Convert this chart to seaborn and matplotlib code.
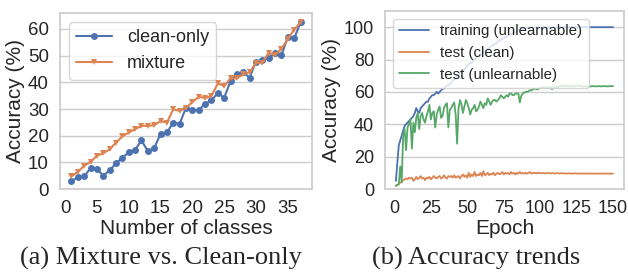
import numpy as np
import pandas as pd
import matplotlib
matplotlib.use("Agg")
import matplotlib.pyplot as plt
import seaborn as sns

# (a) accuracy vs number of classes
classes = list(range(1, 38))
clean_only = [2.9, 4.4, 4.7, 7.8, 7.5, 5.0, 7.0, 9.6, 11.8, 13.7,
              14.7, 18.2, 14.2, 15.3, 20.7, 21.2, 24.9, 24.5, 30.5, 29.5,
              29.6, 32.0, 33.2, 36.0, 34.2, 40.5, 43.0, 43.7, 41.8, 47.8,
              48.3, 49.3, 50.9, 50.1, 57.0, 56.5, 62.5]
mixture = [4.7, 6.5, 8.7, 10.2, 12.5, 13.4, 14.9, 17.4, 19.7, 21.2,
           22.4, 23.7, 23.7, 23.9, 25.5, 24.9, 29.9, 29.3, 30.5, 32.6,
           34.6, 34.1, 34.9, 39.6, 38.6, 41.5, 41.5, 43.0, 43.8, 47.3,
           47.3, 51.1, 50.2, 52.6, 56.3, 59.8, 62.5]

# (b) accuracy trends over 150 epochs
epochs = list(range(1, 151))
train_unl = [5, 16, 27, 30, 33, 36, 39, 40, 41, 42,
             43, 44, 45, 47, 50, 48, 47, 50, 51, 52,
             53, 54, 54, 56, 57, 58, 58, 59, 60, 59,
             60, 61, 62, 62, 63, 64, 64, 65, 66, 67,
             68, 68, 70, 71, 72, 73, 73, 74, 75, 76,
             77, 78, 78, 79, 80, 81, 82, 82, 83, 84,
             85, 85, 86, 87, 87, 88, 89, 89, 90, 90,
             91, 92, 92, 93, 93, 94, 94, 95, 95, 96,
             96, 97, 97, 97.5, 98, 98, 98.5, 99, 99, 99.3,
             99.5, 99.6, 99.7, 99.8, 99.8, 99.9, 99.9, 99.9, 100, 100,
             100, 100, 100, 100, 100, 100, 100, 100, 100, 100,
             100, 100, 100, 100, 100, 100, 100, 100, 100, 100,
             100, 100, 100, 100, 100, 100, 100, 100, 100, 100,
             100, 100, 100, 100, 100, 100, 100, 100, 100, 100,
             100, 100, 100, 100, 100, 100, 100, 100, 100, 100]
test_clean = [2, 2.5, 3, 4, 4.5, 5.5, 6, 6.5, 6, 7,
              6.5, 7, 5, 6, 7.5, 6, 7, 8, 6.5, 7,
              5.5, 7, 6.5, 7.5, 6, 7, 8, 7, 6.5, 7.5,
              8, 6.5, 7, 8.5, 7, 6.5, 8, 7.5, 8, 7,
              8.5, 7, 7.5, 8, 6.5, 8, 9, 7.5, 8.5, 7,
              10, 7.5, 9, 8, 10.5, 8, 9, 8.5, 10, 8,
              11, 8.5, 9, 10, 8.5, 9.5, 9, 10, 8.5, 9.5,
              10, 9, 9.5, 10.5, 9, 10, 9.5, 10, 9, 10.5,
              9.5, 10, 9, 10, 9.5, 10.5, 9.5, 10, 9.5, 10,
              9.5, 10, 10.5, 9.5, 10, 9.8, 10, 9.6, 10.2, 9.8,
              9.7, 9.9, 9.6, 9.8, 9.7, 9.9, 9.6, 9.8, 9.7, 9.6,
              9.8, 9.7, 9.6, 9.7, 9.8, 9.6, 9.7, 9.6, 9.5, 9.7,
              9.6, 9.5, 9.6, 9.7, 9.5, 9.6, 9.5, 9.6, 9.5, 9.6,
              9.5, 9.6, 9.5, 9.5, 9.6, 9.5, 9.5, 9.6, 9.5, 9.5,
              9.5, 9.6, 9.5, 9.5, 9.5, 9.6, 9.5, 9.5, 9.5, 9.5]
test_unl = [2, 2.5, 3, 14, 4, 33, 37, 24, 38, 40,
            43, 25, 41, 35, 44, 47, 37, 45, 47, 43,
            41, 45, 48, 52, 43, 47, 48, 38, 46, 49,
            51, 44, 45, 50, 52, 53, 38, 49, 50, 52,
            53.5, 46, 28, 50, 55, 52, 47, 51, 55, 53,
            50, 46, 49, 50, 52, 48, 49, 51, 54, 52,
            50, 53, 52, 56, 54, 52, 54, 55, 55, 54,
            55, 56, 58, 57, 56, 57, 58, 57, 59, 59,
            58, 58, 59, 59, 59, 53.5, 57.5, 59, 59.5, 60,
            60, 60.5, 61, 61, 61.5, 62, 62, 61.5, 62, 62.5,
            62.5, 63, 62.5, 63, 62.8, 62.5, 63, 61.8, 62.5, 63,
            62.8, 63, 63.5, 63.5, 64, 63.5, 63.8, 63.5, 63.8, 63.5,
            63.5, 63.8, 63.6, 63.4, 63.7, 64.2, 63.8, 63.5, 63.3, 63.4,
            63.5, 63.3, 63.4, 63.5, 63.4, 63.6, 63.5, 63.4, 63.5, 63.6,
            63.5, 63.4, 63.5, 63.6, 63.5, 63.4, 63.5, 63.6, 63.5, 63.6]

sns.set_theme(style="whitegrid", palette="deep")
plt.rcParams['font.family'] = ['Liberation Sans', 'DejaVu Sans']
pal = sns.color_palette("deep")

fig = plt.figure(figsize=(6.28, 2.73), dpi=100)
ax1 = fig.add_axes([60/628, 84/273, 252/628, 176/273])
ax2 = fig.add_axes([385/628, 84/273, 239/628, 178/273])

# left panel
sns.lineplot(x=classes, y=clean_only, ax=ax1, color=pal[0], marker="o",
             markersize=5, markeredgewidth=0, linewidth=1.5, label="clean-only")
sns.lineplot(x=classes, y=mixture, ax=ax1, color=pal[1], marker="v",
             markersize=5, markeredgewidth=0, linewidth=1.5, label="mixture")
ax1.set_ylim(0, 66)
ax1.set_yticks(range(0, 61, 10))
ax1.set_xticks(range(0, 36, 5))
ax1.grid(axis="x", visible=False)
ax1.tick_params(labelsize=13.5, pad=2)
ax1.set_xlabel("Number of classes", fontsize=15, labelpad=1)
ax1.set_ylabel("Accuracy (%)", fontsize=15, labelpad=2)
ax1.legend(loc="upper left", fontsize=13, handlelength=2.0)

# right panel
sns.lineplot(x=epochs, y=train_unl, ax=ax2, color=pal[0], linewidth=1.3,
             label="training (unlearnable)")
sns.lineplot(x=epochs, y=test_clean, ax=ax2, color=pal[1], linewidth=1.3,
             label="test (clean)")
sns.lineplot(x=epochs, y=test_unl, ax=ax2, color=pal[2], linewidth=1.3,
             label="test (unlearnable)")
ax2.set_ylim(0, 110)
ax2.set_yticks(range(0, 101, 20))
ax2.set_xticks(range(0, 151, 25))
ax2.grid(axis="x", visible=False)
ax2.tick_params(labelsize=13, pad=2)
ax2.set_xlabel("Epoch", fontsize=15, labelpad=1)
ax2.set_ylabel("Accuracy (%)", fontsize=15, labelpad=2)
ax2.legend(loc="upper left", fontsize=10.8, handlelength=2.0)

fig.text(161/628, 1 - 258/273, "(a) Mixture vs. Clean-only", ha="center",
         va="center", fontsize=19, family="Liberation Serif")
fig.text(476/628, 1 - 258/273, "(b) Accuracy trends", ha="center",
         va="center", fontsize=19, family="Liberation Serif")

fig.savefig("out.png", dpi=100)
